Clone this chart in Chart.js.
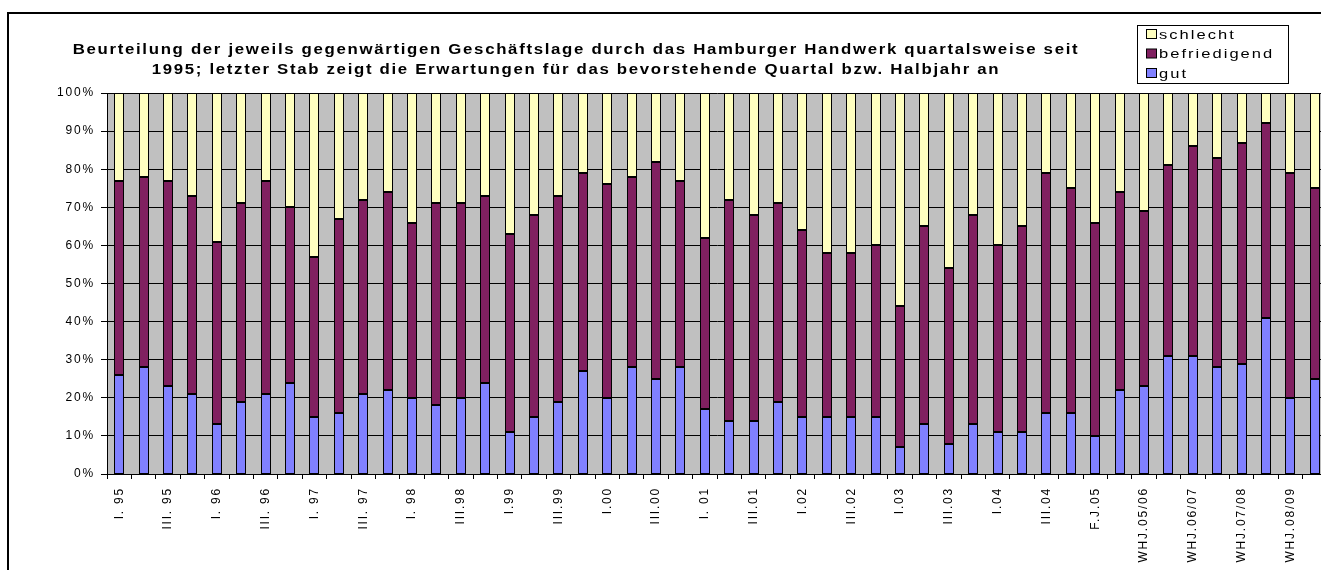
<!DOCTYPE html>
<html>
<head>
<meta charset="utf-8">
<script src="https://cdn.jsdelivr.net/npm/chart.js@4/dist/chart.umd.min.js"></script>
<style>
  html, body { margin: 0; padding: 0; background: #fff; overflow: hidden; }
  #wrap { position: absolute; left: 0; top: 0; width: 1340px; height: 570px; }
</style>
</head>
<body>
<div id="wrap"><canvas id="chart" width="1340" height="570"></canvas></div>
<script>
const titleLines = [
  "Beurteilung der jeweils gegenwärtigen Geschäftslage durch das Hamburger Handwerk quartalsweise seit",
  "1995; letzter Stab zeigt die Erwartungen für das bevorstehende Quartal bzw. Halbjahr an",
];

const quartale = [
  "I. 95", "II. 95", "III. 95", "IV. 95",
  "I. 96", "II. 96", "III. 96", "IV. 96",
  "I. 97", "II. 97", "III. 97", "IV. 97",
  "I. 98", "II.98", "III.98", "IV.98",
  "I.99", "II.99", "III.99", "IV.99",
  "I.00", "II.00", "III.00", "IV.00",
  "I. 01", "II.01", "III.01", "IV.01",
  "I.02", "II.02", "III.02", "IV.02",
  "I.03", "II.03", "III.03", "IV.03",
  "I.04", "II.04", "III.04", "IV.04",
  "F.J.05", "H.05", "WHJ.05/06", "SHJ.06",
  "WHJ.06/07", "SHJ.07", "WHJ.07/08", "SHJ.08",
  "WHJ.08/09", "SHJ.09",
];

const gut = [
  26, 28, 23, 21, 13, 19, 21, 24, 15, 16,
  21, 22, 20, 18, 20, 24, 11, 15, 19, 27,
  20, 28, 25, 28, 17, 14, 14, 19, 15, 15,
  15, 15, 7, 13, 8, 13, 11, 11, 16, 16,
  10, 22, 23, 31, 31, 28, 29, 41, 20, 25,
];

const befriedigend = [
  51, 50, 54, 52, 48, 52, 56, 46, 42, 51,
  51, 52, 46, 53, 51, 49, 52, 53, 54, 52,
  56, 50, 57, 49, 45, 58, 54, 52, 49, 43,
  43, 45, 37, 52, 46, 55, 49, 54, 63, 59,
  56, 52, 46, 50, 55, 55, 58, 51, 59, 50,
];

const schlecht = [
  23, 22, 23, 27, 39, 29, 23, 30, 43, 33,
  28, 26, 34, 29, 29, 27, 37, 32, 27, 21,
  24, 22, 18, 23, 38, 28, 32, 29, 36, 42,
  42, 40, 56, 35, 46, 32, 40, 35, 21, 25,
  34, 26, 31, 19, 14, 17, 13, 8, 21, 25,
];

const yTicks = [0, 10, 20, 30, 40, 50, 60, 70, 80, 90, 100];

const FONT = '"Liberation Sans", Arial, sans-serif';

// Excel-Text wirkt horizontal gestreckt
function wideText(ctx, text, x, y, sx) {
  ctx.save();
  ctx.translate(x, y);
  ctx.scale(sx, 1);
  ctx.fillText(text, 0, 0);
  ctx.restore();
}

const excelLook = {
  id: "excelLook",
  // Balkenkanten auf ganze Pixel legen, damit die Ränder scharf bleiben
  afterDatasetsUpdate(chart) {
    chart.data.datasets.forEach((ds, i) => {
      for (const el of chart.getDatasetMeta(i).data) {
        el.x = Math.round(el.x);
        el.width = Math.round(el.width / 2) * 2;
        el.y = Math.round(el.y);
        el.base = Math.round(el.base);
      }
    });
  },
  beforeDraw(chart) {
    const { ctx, chartArea } = chart;
    ctx.save();
    ctx.fillStyle = "#c0c0c0";
    ctx.fillRect(chartArea.left, chartArea.top, chartArea.right - chartArea.left, chartArea.bottom - chartArea.top);
    ctx.restore();
    ctx.letterSpacing = "1.8px";
  },
  afterDraw(chart) {
    const ctx = chart.ctx;
    ctx.save();

    // Rahmen
    ctx.strokeStyle = "#000";
    ctx.lineWidth = 2;
    ctx.strokeRect(8, 13, chart.width + 20, chart.height + 20);

    // Titel
    ctx.fillStyle = "#000";
    ctx.font = "bold 14px " + FONT;
    ctx.letterSpacing = "1.4px";
    ctx.textAlign = "center";
    ctx.textBaseline = "middle";
    wideText(ctx, titleLines[0], 576, 50, 1.2);
    wideText(ctx, titleLines[1], 576, 70, 1.2);

    // Legende
    ctx.fillStyle = "#fff";
    ctx.fillRect(1137, 25, 151, 58);
    ctx.strokeStyle = "#000";
    ctx.lineWidth = 1;
    ctx.strokeRect(1137.5, 25.5, 151, 58);
    ctx.font = "13px " + FONT;
    ctx.letterSpacing = "1.6px";
    ctx.textAlign = "left";
    const items = chart.data.datasets.slice().reverse();
    items.forEach((ds, i) => {
      const y = 34 + i * 19.5;
      ctx.fillStyle = ds.backgroundColor;
      ctx.fillRect(1146.5, y - 4.5, 10, 9);
      ctx.strokeRect(1146.5, y - 4.5, 10, 9);
      ctx.fillStyle = "#000";
      wideText(ctx, ds.label, 1159, y + 1, 1.27);
    });
    ctx.restore();
  },
};

new Chart(document.getElementById("chart"), {
  type: "bar",
  data: {
    labels: quartale,
    datasets: [
      { label: "gut", data: gut, backgroundColor: "#8080ff", borderColor: "#000" },
      { label: "befriedigend", data: befriedigend, backgroundColor: "#802060", borderColor: "#000" },
      { label: "schlecht", data: schlecht, backgroundColor: "#ffffc0", borderColor: "#000" },
    ],
  },
  options: {
    responsive: false,
    animation: false,
    events: [],
    layout: { padding: { top: 93, right: 13, left: 0, bottom: 0 } },
    datasets: {
      bar: {
        borderWidth: 1,
        borderSkipped: false,
        inflateAmount: 0,
        barPercentage: 0.4,
        categoryPercentage: 1,
      },
    },
    plugins: {
      legend: { display: false },
      title: { display: false },
      tooltip: { enabled: false },
    },
    scales: {
      x: {
        stacked: true,
        grid: {
          display: true,
          offset: true,
          drawOnChartArea: false,
          drawTicks: true,
          tickLength: 5,
          color: "#000",
        },
        border: { display: true, color: "#000", width: 1 },
        ticks: {
          autoSkip: false,
          minRotation: 90,
          maxRotation: 90,
          padding: 8,
          color: "#000",
          font: { family: FONT, size: 12 },
          callback: (value, index) => (index % 2 === 0 ? quartale[index] : ""),
        },
        afterFit: (scale) => {
          scale.height = 570 - 474;
        },
      },
      y: {
        stacked: true,
        min: 0,
        max: 100,
        afterBuildTicks: (scale) => {
          scale.ticks = yTicks.map((v) => ({ value: v }));
        },
        grid: { color: "#000", lineWidth: 1, tickLength: 6 },
        border: { display: true, color: "#000", width: 1 },
        ticks: {
          padding: 6,
          color: "#000",
          font: { family: FONT, size: 12 },
          callback: (value) => value + "%",
        },
        afterFit: (scale) => {
          scale.width = 107;
        },
      },
    },
  },
  plugins: [excelLook],
});
</script>
</body>
</html>
